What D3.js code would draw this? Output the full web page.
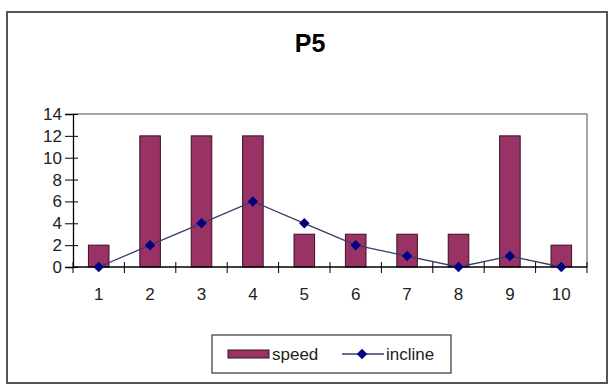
<!DOCTYPE html>
<html>
<head>
<meta charset="utf-8">
<script src="https://cdn.jsdelivr.net/npm/d3@7"></script>
<style>
  body { margin: 0; background: #fff; }
  text { font-family: Arial, "Liberation Sans", sans-serif; }
</style>
</head>
<body>
<svg width="612" height="387"></svg>
<script>
// data
const categories = ["1", "2", "3", "4", "5", "6", "7", "8", "9", "10"];
const speed = [2, 12, 12, 12, 3, 3, 3, 3, 12, 2];
const incline = [0, 2, 4, 6, 4, 2, 1, 0, 1, 0];
const yTicks = [0, 2, 4, 6, 8, 10, 12, 14];

const svg = d3.select("svg");
const fontSz = 17;

// outer chart frame
svg.append("rect")
  .attr("x", 7).attr("y", 12).attr("width", 600).attr("height", 371)
  .attr("fill", "#fff").attr("stroke", "#555").attr("stroke-width", 2);

svg.append("text")
  .attr("x", 310).attr("y", 52)
  .attr("text-anchor", "middle")
  .attr("font-size", 25).attr("font-weight", "bold")
  .text("P5");

const plot = { left: 73, right: 587, top: 114, bottom: 267 };

const x = d3.scaleBand().domain(categories).range([plot.left, plot.right]).paddingInner(0).paddingOuter(0);
const y = d3.scaleLinear().domain([0, 14]).range([plot.bottom, plot.top]);

// plot area border (top + right)
svg.append("path")
  .attr("d", `M${plot.left},${plot.top}H${plot.right}V${plot.bottom}`)
  .attr("fill", "none").attr("stroke", "#888").attr("stroke-width", 1.5);

// bars
const barW = x.bandwidth() / 2.5;
svg.append("g").selectAll("rect")
  .data(speed)
  .join("rect")
  .attr("x", (d, i) => x(categories[i]) + (x.bandwidth() - barW) / 2)
  .attr("y", d => y(d))
  .attr("width", barW)
  .attr("height", d => y(0) - y(d))
  .attr("fill", "#993366")
  .attr("stroke", "#3a1022").attr("stroke-width", 1);

// y axis (ticks cross the axis)
const yAxis = svg.append("g")
  .attr("transform", `translate(${plot.left},0)`)
  .call(d3.axisLeft(y).tickValues(yTicks).tickSize(8).tickPadding(3));
yAxis.select(".domain").attr("stroke", "#000").attr("stroke-width", 1.3);
yAxis.selectAll(".tick line").attr("x2", 5).attr("x1", -8).attr("stroke", "#000");
yAxis.selectAll("text").attr("font-size", fontSz).attr("fill", "#222")
  .attr("font-family", "Arial, 'Liberation Sans', sans-serif");

// x axis (ticks between categories)
const xg = svg.append("g").attr("transform", `translate(0,${plot.bottom})`);
xg.append("line")
  .attr("x1", plot.left).attr("x2", plot.right)
  .attr("stroke", "#000").attr("stroke-width", 1.3);
const bounds = d3.range(categories.length + 1).map(i => plot.left + i * x.step());
xg.selectAll("line.tk")
  .data(bounds)
  .join("line").attr("class", "tk")
  .attr("x1", d => d).attr("x2", d => d)
  .attr("y1", -5).attr("y2", 6)
  .attr("stroke", "#000");
xg.selectAll("text")
  .data(categories)
  .join("text")
  .attr("x", d => x(d) + x.bandwidth() / 2)
  .attr("y", 33)
  .attr("text-anchor", "middle")
  .attr("font-size", fontSz).attr("fill", "#222")
  .text(d => d);

// incline line
const lineGen = d3.line()
  .x((d, i) => x(categories[i]) + x.bandwidth() / 2)
  .y(d => y(d));
svg.append("path")
  .datum(incline)
  .attr("d", lineGen)
  .attr("fill", "none").attr("stroke", "#3a3a66").attr("stroke-width", 1.3);

const diamond = d3.symbol().type(d3.symbolDiamond2).size(70);
svg.append("g").selectAll("path")
  .data(incline)
  .join("path")
  .attr("d", diamond)
  .attr("transform", (d, i) => `translate(${x(categories[i]) + x.bandwidth() / 2},${y(d)})`)
  .attr("fill", "#000080");

// legend
const lg = svg.append("g");
lg.append("rect")
  .attr("x", 212).attr("y", 335).attr("width", 239).attr("height", 38)
  .attr("fill", "#fff").attr("stroke", "#444").attr("stroke-width", 1.3);
lg.append("rect")
  .attr("x", 228).attr("y", 350).attr("width", 41).attr("height", 8)
  .attr("fill", "#993366").attr("stroke", "#3a1022");
lg.append("text")
  .attr("x", 272).attr("y", 360)
  .attr("font-size", fontSz).attr("fill", "#222")
  .text("speed");
lg.append("line")
  .attr("x1", 342).attr("x2", 384).attr("y1", 354).attr("y2", 354)
  .attr("stroke", "#3a3a66").attr("stroke-width", 1.3);
lg.append("path")
  .attr("d", diamond)
  .attr("transform", "translate(362,354)")
  .attr("fill", "#000080");
lg.append("text")
  .attr("x", 386).attr("y", 360)
  .attr("font-size", fontSz).attr("fill", "#222")
  .text("incline");
</script>
</body>
</html>
